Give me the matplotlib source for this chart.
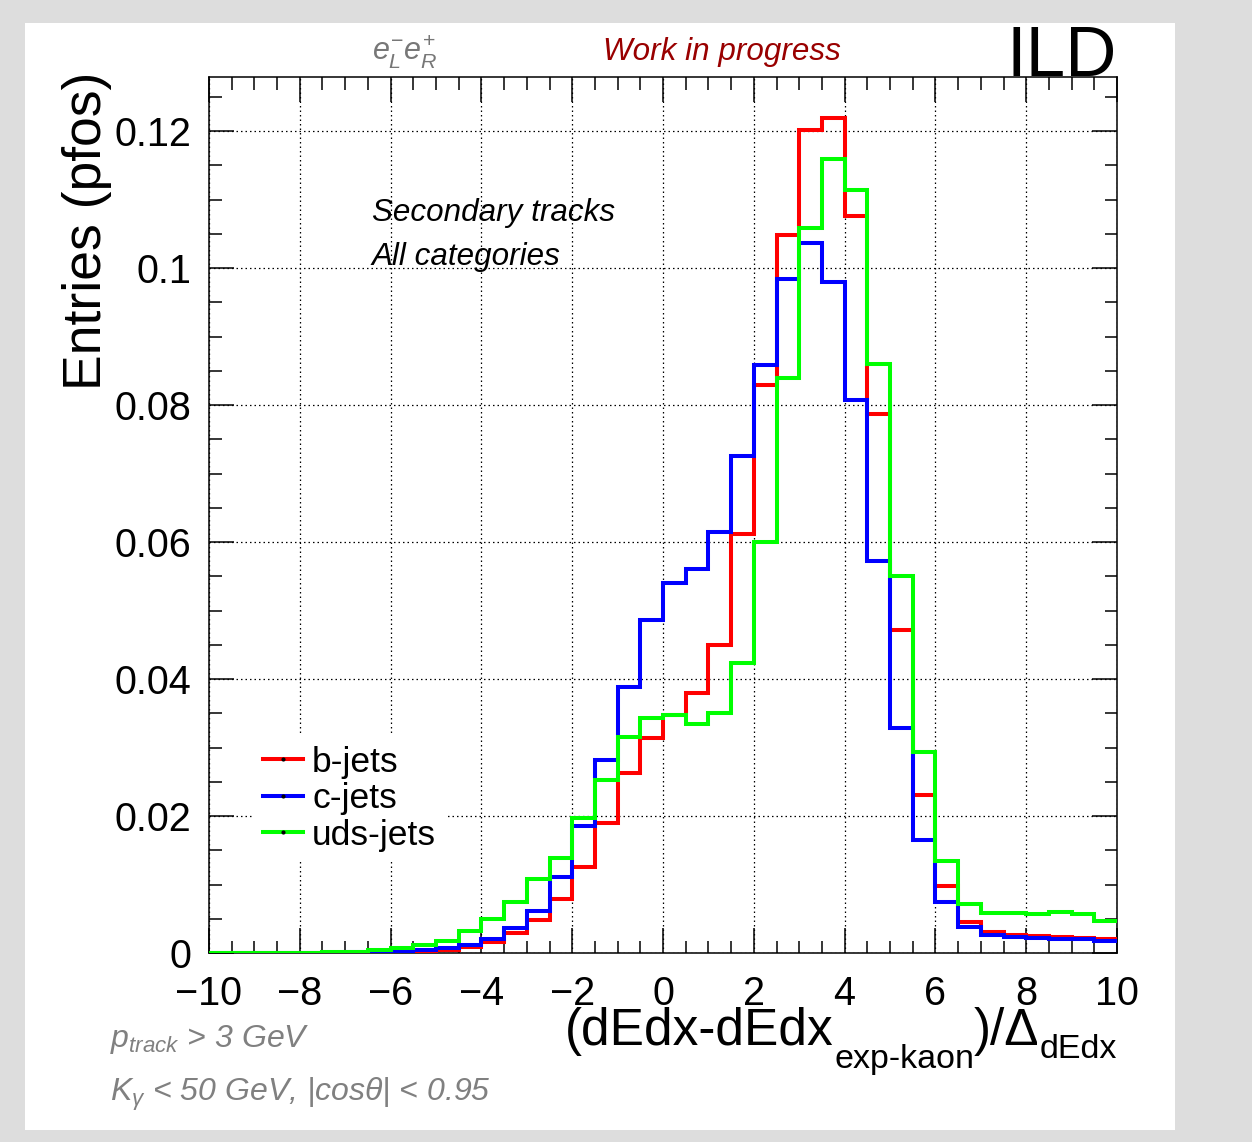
import numpy as np
import matplotlib
matplotlib.use("Agg")
import matplotlib.pyplot as plt
from matplotlib.patches import Rectangle
from matplotlib.lines import Line2D
from matplotlib.ticker import MultipleLocator, FixedLocator

plt.rcParams['font.family'] = ['Liberation Sans', 'DejaVu Sans']
plt.rcParams['mathtext.fontset'] = 'custom'
plt.rcParams['mathtext.rm'] = 'Liberation Sans'
plt.rcParams['mathtext.it'] = 'Liberation Sans:italic'
plt.rcParams['mathtext.bf'] = 'Liberation Sans:bold'

# 40 bins of 0.5 between -10 and 10
edges = np.linspace(-10, 10, 41)

b_jets = [0.0, 0.0, 0.0, 0.0, 0.0, 0.0, 0.0, 0.0001, 0.0001, 0.0002,
          0.0004, 0.0009, 0.0016, 0.0029, 0.0048, 0.0079, 0.0126, 0.0190, 0.0263, 0.0314,
          0.0347, 0.0380, 0.0450, 0.0612, 0.0829, 0.1048, 0.1202, 0.1219, 0.1076, 0.0787,
          0.0472, 0.0231, 0.0098, 0.0045, 0.0030, 0.0026, 0.0025, 0.0024, 0.0022, 0.0020]
c_jets = [0.0, 0.0, 0.0, 0.0, 0.0, 0.0, 0.0001, 0.0001, 0.0002, 0.0005,
          0.0007, 0.0012, 0.0020, 0.0036, 0.0062, 0.0111, 0.0185, 0.0282, 0.0389, 0.0486,
          0.0540, 0.0561, 0.0615, 0.0725, 0.0859, 0.0984, 0.1036, 0.0980, 0.0808, 0.0572,
          0.0329, 0.0165, 0.0075, 0.0038, 0.0027, 0.0024, 0.0022, 0.0021, 0.0020, 0.0018]
uds_jets = [0.0, 0.0, 0.0, 0.0, 0.0, 0.0001, 0.0002, 0.0004, 0.0008, 0.0012,
            0.0018, 0.0032, 0.0050, 0.0074, 0.0108, 0.0138, 0.0197, 0.0252, 0.0316, 0.0343,
            0.0348, 0.0334, 0.0351, 0.0424, 0.0600, 0.0839, 0.1058, 0.1159, 0.1114, 0.0860,
            0.0550, 0.0293, 0.0134, 0.0071, 0.0058, 0.0058, 0.0057, 0.0060, 0.0057, 0.0047]

labels = ['b-jets', 'c-jets', 'uds-jets']
colors = ['#ff0000', '#0000ff', '#00ff00']
y_ticks = [0, 0.02, 0.04, 0.06, 0.08, 0.1, 0.12]
y_ticklabels = ['0', '0.02', '0.04', '0.06', '0.08', '0.1', '0.12']

W, H = 1252, 1142


def fx(x):
    return x / W


def fy(y):
    return 1 - y / H


fig = plt.figure(figsize=(W / 100, H / 100), dpi=100, facecolor='#dddddd')
# white canvas pad
fig.patches.append(Rectangle((fx(25), fy(1130)), 1150 / W, 1107 / H,
                             transform=fig.transFigure, facecolor='white',
                             edgecolor='none', zorder=-1))

ax = fig.add_axes([fx(209), fy(953), (1117 - 209) / W, (953 - 77) / H])
ax.set_facecolor('white')

lw = 2.9
for vals, col in zip([b_jets, c_jets, uds_jets], colors):
    ax.stairs(vals, edges, baseline=None, color=col, lw=lw, zorder=3)

ax.set_xlim(-10, 10)
ax.set_ylim(0, 0.1279)

ax.xaxis.set_major_locator(MultipleLocator(2))
ax.xaxis.set_minor_locator(MultipleLocator(0.5))
ax.yaxis.set_major_locator(FixedLocator(y_ticks))
ax.yaxis.set_minor_locator(MultipleLocator(0.005))
ax.set_yticklabels(y_ticklabels)

ax.tick_params(which='both', direction='in', top=True, right=True, width=1.1, colors='black')
ax.tick_params(which='major', length=18)
ax.tick_params(which='minor', length=9)
ax.tick_params(axis='x', which='major', labelsize=28.5, pad=16)
ax.tick_params(axis='y', which='major', labelsize=28.5, pad=13)
for s in ax.spines.values():
    s.set_linewidth(1.1)

ax.grid(True, which='major', color='black', lw=0.9, linestyle=(0, (1.2, 2.4)), zorder=1)
ax.set_axisbelow(True)

handles = [Line2D([], [], color=c, lw=lw, marker='o', markersize=2,
                  markerfacecolor='black', markeredgecolor='black') for c in colors]
leg = ax.legend(handles, labels, loc='upper left', bbox_to_anchor=(fx(252), fy(735)),
                bbox_transform=fig.transFigure, fontsize=25.5, frameon=True,
                facecolor='white', edgecolor='none', framealpha=1, fancybox=False,
                borderpad=0.3, borderaxespad=0, labelspacing=0.1,
                handlelength=1.15, handletextpad=0.25)
leg.set_zorder(5)

ax.text(fx(372), fy(221), 'Secondary tracks', transform=fig.transFigure,
        fontsize=22.6, style='italic', ha='left', va='baseline')
ax.text(fx(372), fy(265), 'All categories', transform=fig.transFigure,
        fontsize=22.6, style='italic', ha='left', va='baseline')

# header texts
fig.text(fx(372), fy(60), r'$e^{-}_{L}e^{+}_{R}$', fontsize=22, color='#777777',
         ha='left', va='baseline')
fig.text(fx(603), fy(60), 'Work in progress', fontsize=22.6, style='italic',
         color='#990000', ha='left', va='baseline')
fig.text(fx(1117), fy(76), 'ILD', fontsize=51, ha='right', va='baseline')

# y title
fig.text(fx(87), fy(72), 'Entries (pfos)', fontsize=38.5, rotation=90,
         ha='center', va='top')

# x title, written piece by piece so the subscripts sit low like ROOT's TLatex,
# then shifted so that it ends at the right edge of the frame
renderer = fig.canvas.get_renderer()
pieces = [('(dEdx-dEdx', 37, 1045),
          ('exp-kaon', 24.5, 1068),
          (')/\u0394', 37, 1045),
          ('dEdx', 24.5, 1058)]
parts = []
xpos = 0
for txt, size, base in pieces:
    t = fig.text(fx(xpos), fy(base), txt, fontsize=size, ha='left', va='baseline')
    parts.append((t, xpos, base))
    xpos = t.get_window_extent(renderer).x1
shift = 1117 - xpos
for t, x0, base in parts:
    t.set_position((fx(x0 + shift), fy(base)))

# selection cuts
fig.text(fx(110), fy(1047), r'$p_{track}$ > 3 GeV', fontsize=23, style='italic',
         color='#808080', ha='left', va='baseline')
fig.text(fx(110), fy(1101), r'$K_{\gamma}$ < 50 GeV, |cos$\theta$| < 0.95', fontsize=23,
         style='italic', color='#808080', ha='left', va='baseline')

fig.savefig('out.png', dpi=100, facecolor=fig.get_facecolor())
